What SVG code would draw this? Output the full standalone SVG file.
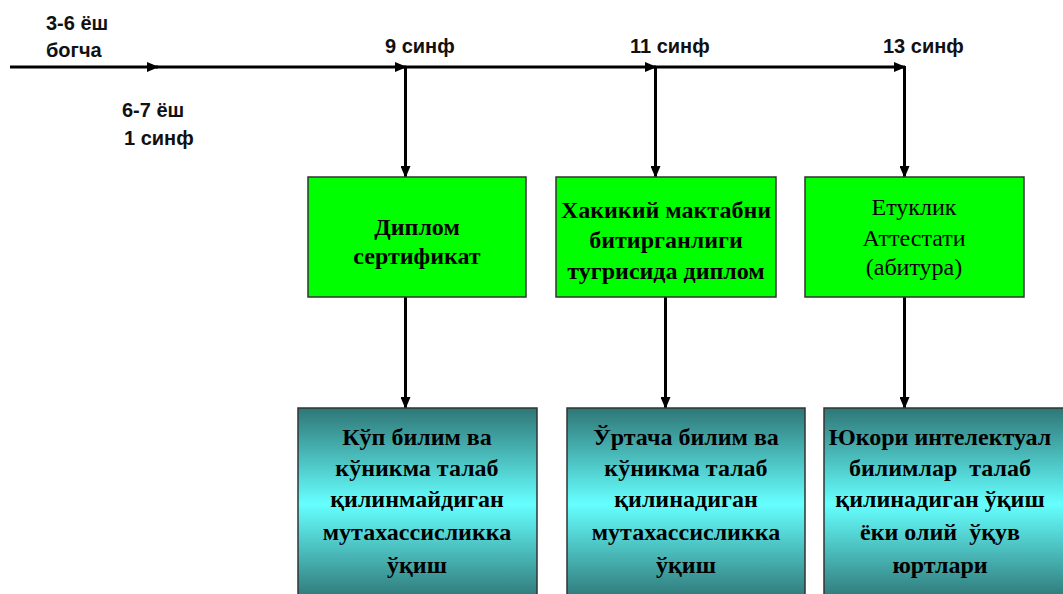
<svg xmlns="http://www.w3.org/2000/svg" width="1063" height="594" viewBox="0 0 1063 594">
<style>
.lbl{font-family:"Liberation Sans",Arial,sans-serif;font-size:20px;font-weight:bold;fill:#111}
.g{fill:#00FF00;stroke:#333;stroke-width:1.5}
.t{fill:url(#teal);stroke:#333;stroke-width:1.5}
.bx{font-family:"Liberation Serif","Times New Roman",serif;font-size:24px;font-weight:bold;fill:#000;text-anchor:middle;white-space:pre}
.bn{font-weight:normal}
.c{stroke:#000;stroke-width:3;fill:none;marker-end:url(#ah)}
</style>
<defs>
<marker id="ah" markerUnits="userSpaceOnUse" markerWidth="12" markerHeight="10" refX="11" refY="5" orient="auto">
<path d="M0,0 L12,5 L0,10 Z" fill="#000"/>
</marker>
<linearGradient id="teal" x1="0" y1="0" x2="0" y2="1">
<stop offset="0" stop-color="#2F7676"/>
<stop offset="0.5" stop-color="#66FFFF"/>
<stop offset="1" stop-color="#2F7676"/>
</linearGradient>
</defs>
<rect width="1063" height="594" fill="#fff"/>
<g id="labels">
<text class="lbl" x="46" y="30">3-6 ёш</text>
<text class="lbl" x="46" y="57">богча</text>
<text class="lbl" x="122" y="117">6-7 ёш</text>
<text class="lbl" x="124" y="145">1 синф</text>
<text class="lbl" x="385" y="53">9 синф</text>
<text class="lbl" x="630" y="53">11 синф</text>
<text class="lbl" x="883" y="53">13 синф</text>
</g>
<g id="connectors">
<line class="c" x1="10" y1="67" x2="158" y2="67"/>
<line class="c" x1="156" y1="67" x2="406" y2="67"/>
<line class="c" x1="404" y1="67" x2="656" y2="67"/>
<line class="c" x1="654" y1="67" x2="905" y2="67"/>
<line class="c" x1="405.5" y1="66" x2="405.5" y2="177"/>
<line class="c" x1="655.5" y1="66" x2="655.5" y2="177"/>
<line class="c" x1="904.5" y1="66" x2="904.5" y2="177"/>
<line class="c" x1="405.5" y1="297" x2="405.5" y2="408"/>
<line class="c" x1="665.5" y1="297" x2="665.5" y2="408"/>
<line class="c" x1="904.5" y1="297" x2="904.5" y2="408"/>
</g>
<g id="g1">
<rect class="g" x="308" y="177" width="218" height="120"/>
<text class="bx" x="417" y="235">Диплом</text>
<text class="bx" x="417" y="264">сертификат</text>
</g>
<g id="g2">
<rect class="g" x="556" y="177" width="220" height="120"/>
<text class="bx" x="666" y="218">Хакикий мактабни</text>
<text class="bx" x="666" y="248">битирганлиги</text>
<text class="bx" x="666" y="279">тугрисида диплом</text>
</g>
<g id="g3">
<rect class="g" x="805" y="177" width="219" height="120"/>
<text class="bx bn" x="914" y="215">Етуклик</text>
<text class="bx bn" x="914" y="246">Аттестати</text>
<text class="bx bn" x="914" y="275">(абитура)</text>
</g>
<g id="t1">
<rect class="t" x="298" y="408" width="239" height="192"/>
<text class="bx" x="417" y="445">Кўп билим ва</text>
<text class="bx" x="417" y="476">кўникма талаб</text>
<text class="bx" x="417" y="507">қилинмайдиган</text>
<text class="bx" x="417" y="540">мутахассисликка</text>
<text class="bx" x="417" y="573">ўқиш</text>
</g>
<g id="t2">
<rect class="t" x="567" y="408" width="238" height="192"/>
<text class="bx" x="686" y="445">Ўртача билим ва</text>
<text class="bx" x="686" y="476">кўникма талаб</text>
<text class="bx" x="686" y="507">қилинадиган</text>
<text class="bx" x="686" y="540">мутахассисликка</text>
<text class="bx" x="686" y="573">ўқиш</text>
</g>
<g id="t3">
<rect class="t" x="824" y="408" width="240" height="192"/>
<text class="bx" x="940" y="445">Юкори интелектуал</text>
<text class="bx" x="940" y="476">билимлар  талаб</text>
<text class="bx" x="940" y="507">қилинадиган ўқиш</text>
<text class="bx" x="940" y="540">ёки олий  ўқув</text>
<text class="bx" x="940" y="573">юртлари</text>
</g>
</svg>
